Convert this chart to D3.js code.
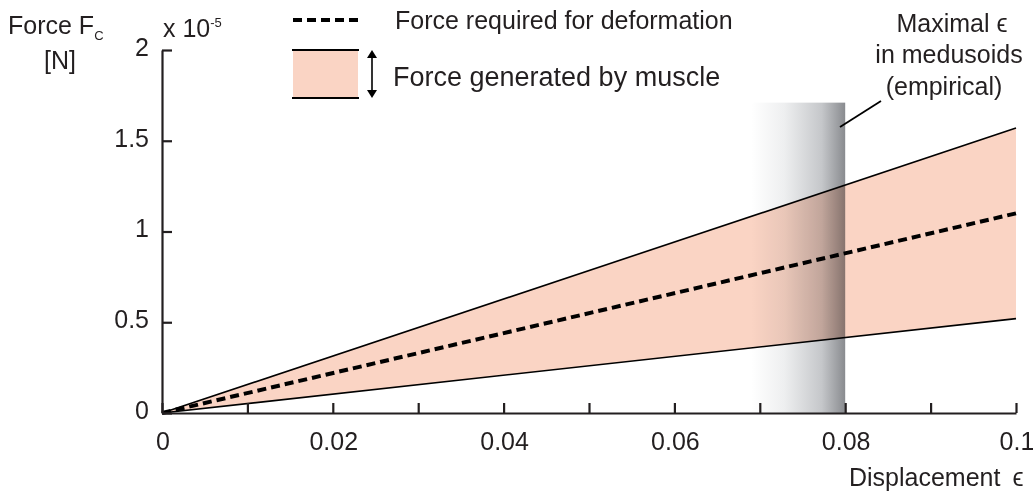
<!DOCTYPE html>
<meta charset="utf-8">
<style>
    body { margin: 0; background: #fff; }
    svg { font-family: "Liberation Sans", Arial, sans-serif; }
    svg text { fill: #231f20; font-size: 25px; }
    .axis path, .axis line { fill: none; stroke: #231f20; stroke-width: 2.2; }
</style>
<body>
<script src="https://cdn.jsdelivr.net/npm/d3@7"></script>
<script>
    // values (force in units of 1e-5 N)
    const strain = [0, 0.1];
    const forceUpper = [0, 1.57];
    const forceRequired = [0, 1.10];
    const forceLower = [0, 0.52];
    const empiricalBand = [0.069, 0.08];
    const empiricalTop = 1.71;
    const xTicks = [0, 0.01, 0.02, 0.03, 0.04, 0.05, 0.06, 0.07, 0.08, 0.09, 0.1];
    const xLabels = [0, 0.02, 0.04, 0.06, 0.08, 0.1];
    const yTicks = [0, 0.5, 1, 1.5, 2];

    const width = 1033, height = 492;
    const svg = d3.select('body').append('svg')
        .attr('width', width).attr('height', height);

    const x = d3.scaleLinear().domain([0, 0.1]).range([162, 1016]);
    const y = d3.scaleLinear().domain([0, 2]).range([413, 50]);

    const pts = arr => strain.map((s, i) => [s, arr[i]]);

    // gray gradient band
    const defs = svg.append('defs');
    const grad = defs.append('linearGradient').attr('id', 'band');
    grad.append('stop').attr('offset', '0%').attr('stop-color', '#ffffff');
    grad.append('stop').attr('offset', '35%').attr('stop-color', '#eeeff0');
    grad.append('stop').attr('offset', '75%').attr('stop-color', '#c5c7ca');
    grad.append('stop').attr('offset', '100%').attr('stop-color', '#898b8f');

    svg.append('rect')
        .attr('x', x(empiricalBand[0]))
        .attr('y', y(empiricalTop))
        .attr('width', x(empiricalBand[1]) - x(empiricalBand[0]))
        .attr('height', y(0) - y(empiricalTop))
        .attr('fill', 'url(#band)');

    // pink area between the muscle force lines
    const area = d3.area()
        .x(d => x(d[0]))
        .y0((d, i) => y(forceLower[i]))
        .y1(d => y(d[1]));
    svg.append('path')
        .datum(pts(forceUpper))
        .attr('d', area)
        .attr('fill', '#fad4c4')
        .style('mix-blend-mode', 'multiply');

    const line = d3.line().x(d => x(d[0])).y(d => y(d[1]));
    [forceUpper, forceLower].forEach(f => {
        svg.append('path').datum(pts(f))
            .attr('d', line).attr('fill', 'none')
            .attr('stroke', '#000').attr('stroke-width', 1.6);
    });
    svg.append('path').datum(pts(forceRequired))
        .attr('d', line).attr('fill', 'none')
        .attr('stroke', '#000').attr('stroke-width', 4)
        .attr('stroke-dasharray', '9,5');

    // axes
    svg.append('g').attr('class', 'axis')
        .attr('transform', 'translate(0,' + y(0) + ')')
        .call(d3.axisTop(x).tickValues(xTicks).tickSize(10).tickSizeOuter(0).tickFormat(''));
    svg.append('g').selectAll('text').data(xLabels).enter().append('text')
        .attr('x', d => x(d) + 1).attr('y', y(0) + 37)
        .attr('text-anchor', 'middle')
        .text(d => d3.format('~g')(d));

    svg.append('g').attr('class', 'axis')
        .attr('transform', 'translate(' + x(0) + ',0)')
        .call(d3.axisRight(y).tickValues(yTicks).tickSize(10).tickSizeOuter(0).tickFormat(''));
    svg.append('g').selectAll('text').data(yTicks).enter().append('text')
        .attr('x', x(0) - 13).attr('y', d => y(d) - 3)
        .attr('dy', '0.35em')
        .attr('text-anchor', 'end')
        .text(d => d3.format('~g')(d));

    // axis titles
    const yt = svg.append('text').attr('x', 8).attr('y', 34);
    yt.append('tspan').text('Force F');
    yt.append('tspan').style('font-size', '13px').attr('dy', 6).text('C');
    svg.append('text').attr('x', 60).attr('y', 69).attr('text-anchor', 'middle').text('[N]');

    const sc = svg.append('text').attr('x', 163).attr('y', 37);
    sc.append('tspan').text('x 10');
    sc.append('tspan').style('font-size', '13px').attr('dy', -10).text('-5');

    const xt = svg.append('text').attr('x', 849).attr('y', 486);
    xt.append('tspan').text('Displacement');
    xt.append('tspan').attr('dx', 12).text('\u03f5');

    // legend
    const lg = svg.append('g');
    lg.append('line').attr('x1', 293).attr('x2', 358).attr('y1', 20).attr('y2', 20)
        .attr('stroke', '#000').attr('stroke-width', 4).attr('stroke-dasharray', '9,5');
    lg.append('text').attr('x', 395).attr('y', 29).text('Force required for deformation');
    lg.append('rect').attr('x', 293).attr('y', 50).attr('width', 65).attr('height', 48)
        .attr('fill', '#fad4c4');
    [50, 98].forEach(v => lg.append('line').attr('x1', 292).attr('x2', 359)
        .attr('y1', v).attr('y2', v).attr('stroke', '#000').attr('stroke-width', 2.2));
    lg.append('line').attr('x1', 372).attr('x2', 372).attr('y1', 54).attr('y2', 94)
        .attr('stroke', '#000').attr('stroke-width', 1.6);
    lg.append('path').attr('d', 'M367,58 L372,50 L377,58 Z M367,90 L372,98 L377,90 Z').attr('fill', '#000');
    lg.append('text').attr('x', 393).attr('y', 86).style('font-size', '27px').text('Force generated by muscle');

    // annotation
    const an = svg.append('text').attr('text-anchor', 'middle');
    ['Maximal \u03f5', 'in medusoids', '(empirical)'].forEach((t, i) => {
        an.append('tspan').attr('x', [952, 949, 944][i]).attr('y', [32, 63, 95][i]).text(t);
    });
    svg.append('line').attr('x1', 840).attr('y1', 127).attr('x2', 881).attr('y2', 101)
        .attr('stroke', '#000').attr('stroke-width', 1.8);
</script>
</body>
</html>
